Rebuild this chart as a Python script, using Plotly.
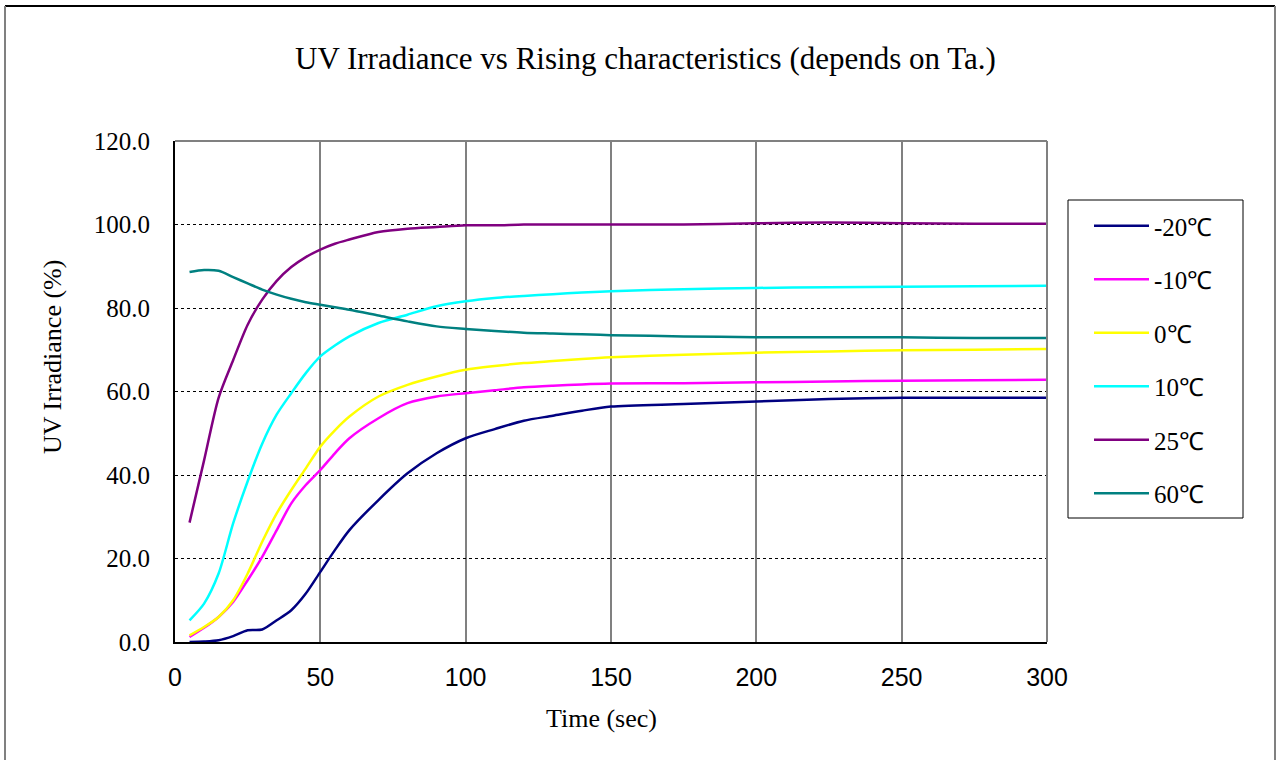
import plotly.graph_objects as go

times = [5, 10, 15, 20, 25, 30, 35, 40, 45, 50, 55, 60, 70, 80, 90, 100,
         110, 120, 130, 140, 150, 175, 200, 225, 250, 275, 300]

series_names = ["-20℃", "-10℃", "0℃", "10℃", "25℃", "60℃"]

m20 = [0.0, 0.1, 0.4, 1.4, 2.8, 3.0, 5.2, 7.6, 11.6, 16.8, 22.0, 26.8, 34.0, 40.4, 45.2, 48.8,
       51.0, 53.0, 54.2, 55.4, 56.4, 57.0, 57.6, 58.2, 58.5, 58.5, 58.5]
m10 = [1.2, 3.4, 6.0, 9.6, 14.8, 20.4, 26.8, 33.2, 37.6, 41.2, 45.2, 48.8, 53.6, 57.2, 58.8, 59.6,
       60.3, 61.0, 61.4, 61.7, 61.9, 62.0, 62.2, 62.4, 62.6, 62.7, 62.8]
p0 = [1.6, 3.6, 6.0, 10.0, 16.4, 24.0, 30.8, 36.4, 41.6, 46.8, 50.7, 54.0, 58.8, 61.6, 63.6, 65.2,
      66.1, 66.8, 67.3, 67.8, 68.2, 68.8, 69.3, 69.6, 69.9, 70.0, 70.2]
p10 = [5.2, 9.2, 16.4, 28.4, 38.5, 47.5, 54.5, 59.6, 64.4, 68.4, 71.0, 73.2, 76.4, 78.4, 80.4, 81.6,
       82.4, 82.9, 83.3, 83.7, 84.0, 84.5, 84.8, 85.0, 85.1, 85.2, 85.3]
p25 = [28.6, 43.5, 58.5, 67.5, 76.0, 82.0, 86.5, 89.8, 92.2, 94.0, 95.4, 96.4, 98.2, 99.0, 99.4, 99.8,
       99.8, 100.0, 100.0, 100.0, 100.0, 100.0, 100.3, 100.5, 100.3, 100.2, 100.2]
p60 = [88.6, 89.1, 88.9, 87.4, 85.9, 84.4, 83.2, 82.2, 81.4, 80.8, 80.2, 79.6, 78.2, 76.8, 75.6, 75.0,
       74.5, 74.1, 73.9, 73.7, 73.5, 73.2, 73.0, 73.0, 73.0, 72.8, 72.8]

values = [m20, m10, p0, p10, p25, p60]
colors = ["#000080", "#FF00FF", "#FFFF00", "#00FFFF", "#800080", "#008080"]

x_ticks = [0, 50, 100, 150, 200, 250, 300]
y_ticks = [0, 20, 40, 60, 80, 100, 120]

SERIF = "Liberation Serif, Times New Roman, serif"
SANS = "Liberation Sans, Arial, sans-serif"

fig = go.Figure()
for name, vals, col in zip(series_names, values, colors):
    fig.add_trace(go.Scatter(
        x=times, y=vals, name=name, mode="lines", legendgroup=name,
        line=dict(color=col, width=2.5, shape="spline", smoothing=0.8),
    ))

W, H = 1280, 760
L, R, T, B = 175, 1047, 141, 642
pw, ph = R - L, B - T

def px(xp):
    return (xp - L) / pw

def py(yp):
    return (B - yp) / ph

fig.update_layout(
    width=W, height=H,
    margin=dict(l=L, r=W - R, t=T, b=H - B, autoexpand=False),
    paper_bgcolor="white", plot_bgcolor="white",
    showlegend=True,
    legend=dict(
        x=px(1089), y=py(203), xanchor="left", yanchor="top",
        borderwidth=0, bgcolor="rgba(0,0,0,0)",
        font=dict(family=SERIF, size=25, color="black"),
        tracegroupgap=18, itemwidth=55,
    ),
    font=dict(family=SERIF, color="black"),
)

fig.update_xaxes(
    range=[0, 300], tickvals=x_ticks, ticktext=[str(v) for v in x_ticks],
    showgrid=True, gridcolor="#808080", gridwidth=2,
    showline=True, linecolor="black", linewidth=2, mirror=False,
    ticks="", tickfont=dict(family=SANS, size=25, color="black"),
    ticklabelstandoff=12, zeroline=False,
)
fig.update_yaxes(
    range=[0, 120], tickvals=y_ticks, ticktext=[f"{v:.1f}" for v in y_ticks],
    showgrid=True, gridcolor="black", gridwidth=1, griddash="dot",
    showline=True, linecolor="black", linewidth=2, mirror=False,
    ticks="", tickfont=dict(family=SERIF, size=25, color="black"),
    ticklabelstandoff=18, zeroline=False,
)

shapes = [
    dict(type="line", xref="paper", yref="paper", x0=0, x1=1, y0=1, y1=1,
         line=dict(color="#808080", width=2)),
    dict(type="line", xref="paper", yref="paper", x0=1, x1=1, y0=0, y1=1,
         line=dict(color="#808080", width=2)),
    dict(type="rect", xref="paper", yref="paper", x0=px(1068), x1=px(1243), y0=py(518), y1=py(200),
         line=dict(color="black", width=1), fillcolor="rgba(0,0,0,0)", layer="below"),
    dict(type="line", xref="paper", yref="paper", x0=px(5), x1=px(1275), y0=py(6), y1=py(6),
         line=dict(color="black", width=2)),
    dict(type="line", xref="paper", yref="paper", x0=px(5), x1=px(5), y0=py(6), y1=py(800),
         line=dict(color="#808080", width=2)),
    dict(type="line", xref="paper", yref="paper", x0=px(1275), x1=px(1275), y0=py(6), y1=py(800),
         line=dict(color="#808080", width=2)),
]
fig.update_layout(shapes=shapes)

annotations = [
    dict(text="UV Irradiance vs Rising characteristics (depends on Ta.)",
         xref="paper", yref="paper", x=px(645), y=py(58), xanchor="center", yanchor="middle",
         showarrow=False, font=dict(family=SERIF, size=31, color="black")),
    dict(text="Time (sec)", xref="paper", yref="paper", x=px(601), y=py(718),
         xanchor="center", yanchor="middle", showarrow=False,
         font=dict(family=SERIF, size=26, color="black")),
    dict(text="UV Irradiance (%)", xref="paper", yref="paper", x=px(52), y=py(357),
         xanchor="center", yanchor="middle", showarrow=False, textangle=-90,
         font=dict(family=SERIF, size=26, color="black")),
]
fig.update_layout(annotations=annotations)

fig.write_html("out.html", config={"displayModeBar": False},
               post_script="document.body.style.margin='0';")
